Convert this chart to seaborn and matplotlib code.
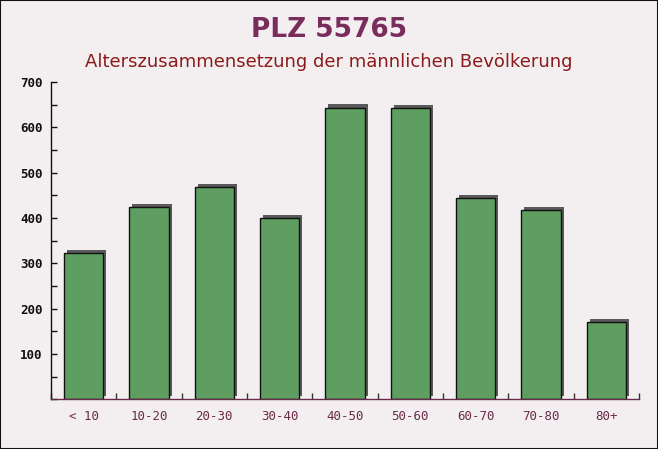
import matplotlib
matplotlib.use("Agg")
import matplotlib.pyplot as plt
import matplotlib.patheffects as pe
import seaborn as sns
import pandas as pd
from matplotlib.ticker import MultipleLocator

categories = ["< 10", "10-20", "20-30", "30-40", "40-50", "50-60", "60-70", "70-80", "80+"]
values = [322, 424, 468, 400, 644, 642, 444, 417, 170]
yticks = [100, 200, 300, 400, 500, 600, 700]

df = pd.DataFrame({"age": categories, "count": values})

sns.set_theme(style="white")
plt.rcParams["font.family"] = ["DejaVu Sans"]

bg = "#f3eff1"
fig = plt.figure(figsize=(6.58, 4.49), dpi=100, facecolor=bg)
ax = fig.add_axes([0.0775, 0.111, 0.8935, 0.706])
ax.set_facecolor(bg)

sns.barplot(data=df, x="age", y="count", ax=ax, color="#5e9e60", width=0.6,
            edgecolor="#111111", linewidth=1.0, saturation=1)
for p in ax.patches:
    p.set_path_effects([pe.SimplePatchShadow(offset=(2.2, 2.2), shadow_rgbFace="#5a5a5a", alpha=1.0),
                        pe.Normal()])

ax.set_xlim(-0.5, 8.5)
ax.set_ylim(0, 700)
ax.set_yticks(yticks)
ax.yaxis.set_minor_locator(MultipleLocator(50))
ax.set_xticks(range(len(categories)))
ax.set_xticklabels(categories)
ax.set_xticks([i - 0.5 for i in range(len(categories) + 1)], minor=True)
ax.set_xlabel("")
ax.set_ylabel("")

for s in ["top", "right"]:
    ax.spines[s].set_visible(False)
ax.spines["left"].set_color("#111111")
ax.spines["bottom"].set_color("#6a2a4a")
ax.spines["left"].set_linewidth(1.0)
ax.spines["bottom"].set_linewidth(1.0)

ax.tick_params(axis="y", which="both", direction="in", length=4, width=1, color="#111111",
               labelsize=9, labelcolor="#111111", pad=6, left=True)
ax.tick_params(axis="x", which="major", length=0, labelsize=9, labelcolor="#6a2a4a", pad=8)
ax.tick_params(axis="x", which="minor", direction="in", length=4, color="#333333", bottom=True)
for lab in ax.get_yticklabels():
    lab.set_fontfamily("DejaVu Sans Mono")
    lab.set_fontweight("bold")
for lab in ax.get_xticklabels():
    lab.set_fontfamily("DejaVu Sans Mono")

fig.text(0.5, 0.933, "PLZ 55765", ha="center", va="center", fontsize=19,
         fontweight="bold", color="#7a2c5c")
fig.text(0.5, 0.862, "Alterszusammensetzung der männlichen Bevölkerung", ha="center",
         va="center", fontsize=13, color="#8b1a1a")

fig.patches.append(plt.Rectangle((0, 0), 1, 1, transform=fig.transFigure, fill=False,
                                 edgecolor="#111111", linewidth=1.5))

fig.savefig("out.png", dpi=100, facecolor=bg)
